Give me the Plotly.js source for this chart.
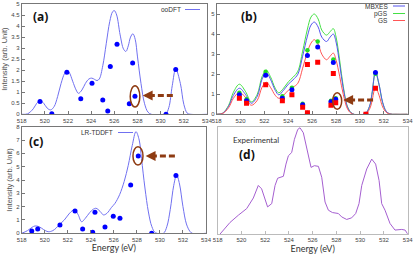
<!DOCTYPE html>
<html><head><meta charset="utf-8">
<script src="https://cdn.plot.ly/plotly-3.0.1.min.js"></script>
<style>html,body{margin:0;padding:0;background:#fff}#chart{width:415px;height:256px}</style>
</head><body><div id="chart"></div>
<script>
// ---------- data ----------
// (a) ooDFT
const curveA_E = [518.0,518.5,519.0,519.3,519.6,519.9,520.2,520.5,520.8,521.1,521.4,521.7,521.9,522.1,522.4,522.7,522.9,523.2,523.5,523.8,524.05,524.3,524.5,524.7,525.0,525.3,525.6,525.85,526.0,526.2,526.5,526.8,527.0,527.2,527.4,527.6,527.8,528.0,528.3,528.6,528.9,529.2,530.4,530.7,531.0,531.3,531.7,532.0,532.3,532.6,534.0];
const curveA_I = [0,0.02,0.25,0.5,0.62,0.5,0.28,0.2,0.35,0.8,1.4,1.85,1.97,1.9,1.5,1.1,0.95,1.1,1.4,1.6,1.64,1.58,1.53,1.6,2.2,3.2,4.2,4.65,4.7,4.5,3.6,2.95,2.85,3.1,3.5,3.65,3.4,2.6,1.4,0.5,0.1,0,0,0.3,1.3,2.06,1.4,0.45,0.05,0,0];
const dotsA_E = [519.58,520.6,521.9,523.1,524.07,525.0,525.43,525.65,526.23,527.29,527.58,527.78,530.46,531.3];
const dotsA_I = [0.58,0.02,1.91,0.70,1.41,0.65,0.15,2.17,3.17,0.48,2.32,0.82,0.0,2.03];

// (b) MBXES / pGS / GS
const curveB_E = [518.0,518.5,519.0,519.4,519.9,520.4,520.9,521.4,521.8,522.15,522.5,522.9,523.2,523.6,524.0,524.4,524.8,525.2,525.6,525.9,526.18,526.5,526.8,527.2,527.5,527.77,528.0,528.3,528.6,529.0,529.4,530.4,530.8,531.0,531.3,531.6,531.9,532.2,532.5,533.0,534.0];
const curveB_MBXES = [0,0.05,0.4,0.95,1.3,1.0,0.55,0.9,1.75,2.08,1.75,1.2,0.97,1.2,1.5,1.72,2.0,2.9,3.9,4.45,4.6,4.35,3.85,3.63,3.85,4.0,3.6,2.5,1.3,0.3,0.02,0,0.4,1.0,2.13,1.5,0.6,0.15,0.02,0,0];
const curveB_pGS = [0,0.06,0.45,1.1,1.5,1.15,0.62,1.0,1.88,2.2,1.88,1.3,1.07,1.3,1.62,1.85,2.15,3.15,4.25,4.85,5.0,4.75,4.2,3.95,4.12,4.27,3.85,2.7,1.4,0.32,0.02,0,0.38,0.98,2.08,1.47,0.58,0.14,0.02,0,0];
const curveB_GS = [0,0.04,0.33,0.8,1.1,0.85,0.45,0.7,1.35,1.6,1.35,0.95,0.8,0.95,1.2,1.35,1.55,2.3,3.1,3.55,3.72,3.5,3.0,2.72,2.9,3.05,2.7,1.9,1.0,0.22,0.01,0,0.25,0.63,1.35,0.95,0.37,0.1,0.01,0,0];
const dotsB_E = [519.9,520.5,522.1,523.5,524.3,525.2,525.6,525.6,526.46,527.57,527.77,527.97,530.5,531.3];
const dotsB_MBXES = [0.97,0.68,1.95,0.80,1.22,0.47,0.05,2.93,3.35,0.62,2.58,0.75,0.0,2.08];
const dotsB_pGS = [1.08,0.75,2.12,0.90,1.33,0.53,0.06,3.20,3.63,0.68,2.73,0.80,0.0,2.02];
const dotsB_GS = [0.80,0.55,1.47,0.67,0.97,0.35,0.08,2.48,2.60,0.45,2.03,0.58,0.0,1.30];

// (c) LR-TDDFT
const curveC_E = [518.0,518.5,518.9,519.15,519.5,519.9,520.3,520.7,521.0,521.3,521.7,522.1,522.45,522.63,522.9,523.2,523.5,523.9,524.2,524.45,524.8,525.1,525.4,525.8,526.1,526.5,526.9,527.25,527.6,527.92,528.2,528.4,528.7,529.0,529.3,529.6,530.3,530.6,530.9,531.2,531.45,531.7,532.0,532.3,532.6,532.8,534.0];
const curveC_I = [0,0.2,0.45,0.55,0.5,0.28,0.12,0.2,0.4,0.68,1.0,1.45,1.73,1.75,1.4,0.87,1.1,1.55,1.8,1.88,1.65,1.38,1.5,1.95,2.25,2.9,3.9,5.1,6.6,7.63,7.0,5.6,3.4,1.6,0.5,0.05,0,0.5,1.8,3.6,4.38,3.7,2.0,0.7,0.15,0,0];
const dotsC_E = [518.87,519.39,521.32,522.63,523.29,524.16,524.36,525.23,525.95,526.53,527.46,528.12,529.28,531.39];
const dotsC_I = [0.17,0.33,0.63,1.68,0.33,0.08,1.58,0.48,1.28,1.13,3.63,5.8,0.0,4.33];

// (d) Experimental
const expE = [518.2,519.04,519.74,520.44,521.0,521.42,521.7,522.2,522.55,522.83,523.05,523.53,523.75,523.95,524.23,524.46,524.74,524.93,525.21,525.5,525.86,526.14,526.48,526.76,527.04,527.32,527.66,528.16,528.44,528.86,529.28,529.62,529.9,530.13,530.55,530.97,531.3,531.59,531.81,532.09,532.51,532.93,533.5,533.78,534.0];
const expI = [0,0.109,0.177,0.239,0.339,0.457,0.425,0.255,0.286,0.457,0.525,0.543,0.658,0.736,0.767,0.891,0.984,1.0,0.953,0.798,0.627,0.643,0.637,0.534,0.301,0.224,0.202,0.193,0.161,0.137,0.152,0.193,0.286,0.457,0.612,0.705,0.658,0.503,0.286,0.224,0.099,0.037,0.043,0.037,0];

const xTicks = [518,520,522,524,526,528,530,532,534];

// ---------- styling ----------
const W = 415, H = 256;
const px = v => v / W, py = v => 1 - v / H;
const tickFont = {family: 'Liberation Sans, Arial, sans-serif', size: 6, color: '#444'};
const brown = '#8e3b12';
const blueLine = '#7070f0';

function xa(domain, anchor, title, boxColor) {
  return {domain, anchor, range: [518, 534], tickvals: xTicks, ticks: 'inside', ticklen: 3,
    tickcolor: boxColor, tickfont: tickFont, showline: true, mirror: true, linecolor: boxColor,
    linewidth: 1, showgrid: false, zeroline: false, fixedrange: true,
    title: title ? {text: title, font: {family: 'Lato, Open Sans, sans-serif', size: 9, color: '#333'}, standoff: 2} : undefined};
}
function ya(domain, anchor, range, dtick, title, show, boxColor) {
  return {domain, anchor, range, dtick, ticks: show ? 'inside' : '', ticklen: 3, tickcolor: boxColor,
    showticklabels: show, tickfont: tickFont, showline: true, mirror: true, linecolor: boxColor,
    linewidth: 1, showgrid: false, zeroline: false, fixedrange: true,
    title: title ? {text: title, font: {family: 'Liberation Sans, Arial, sans-serif', size: 7.5, color: '#555'}, standoff: 2} : undefined};
}

const traces = [
  {x: curveA_E, y: curveA_I, xaxis: 'x', yaxis: 'y', mode: 'lines', line: {color: blueLine, width: 1, shape: 'spline'}, name: 'ooDFT'},
  {x: dotsA_E, y: dotsA_I, xaxis: 'x', yaxis: 'y', mode: 'markers', marker: {color: '#0000ff', size: 5}, name: 'ooDFT sticks'},

  {x: curveB_E, y: curveB_pGS, xaxis: 'x2', yaxis: 'y2', mode: 'lines', line: {color: '#44e044', width: 1, shape: 'spline'}, name: 'pGS'},
  {x: curveB_E, y: curveB_MBXES, xaxis: 'x2', yaxis: 'y2', mode: 'lines', line: {color: '#5555ee', width: 1, shape: 'spline'}, name: 'MBXES'},
  {x: curveB_E, y: curveB_GS, xaxis: 'x2', yaxis: 'y2', mode: 'lines', line: {color: '#ff5555', width: 1, shape: 'spline'}, name: 'GS'},
  {x: dotsB_E, y: dotsB_pGS, xaxis: 'x2', yaxis: 'y2', mode: 'markers', marker: {color: '#22dd22', size: 4.5}, name: 'pGS sticks'},
  {x: dotsB_E, y: dotsB_MBXES, xaxis: 'x2', yaxis: 'y2', mode: 'markers', marker: {color: '#0000ff', size: 5}, name: 'MBXES sticks'},
  {x: dotsB_E, y: dotsB_GS, xaxis: 'x2', yaxis: 'y2', mode: 'markers', marker: {color: '#ff0000', size: 5, symbol: 'square'}, name: 'GS sticks'},

  {x: curveC_E, y: curveC_I, xaxis: 'x3', yaxis: 'y3', mode: 'lines', line: {color: blueLine, width: 1, shape: 'spline'}, name: 'LR-TDDFT'},
  {x: dotsC_E, y: dotsC_I, xaxis: 'x3', yaxis: 'y3', mode: 'markers', marker: {color: '#0000ff', size: 5}, name: 'LR-TDDFT sticks'},

  {x: expE, y: expI, xaxis: 'x4', yaxis: 'y4', mode: 'lines', line: {color: '#a55fd0', width: 1}, name: 'Experimental'}
];

function ellipse(xr, yr, x0, x1, y0, y1) {
  return {type: 'circle', xref: xr, yref: yr, x0, x1, y0, y1, line: {color: brown, width: 1.5}};
}
function dashArrow(xr, yr, xTail, xTip, y) {
  return {type: 'line', xref: xr, yref: yr, x0: xTail, x1: xTip + 0.45, y0: y, y1: y, line: {color: brown, width: 3, dash: '6px,3px'}};
}
function arrowHead(xr, yr, xTip, y) {
  return {xref: xr, yref: yr, x: xTip, y, ax: 7, ay: 0, axref: 'pixel', ayref: 'pixel', text: '', showarrow: true,
    arrowhead: 2, arrowsize: 0.9, arrowwidth: 2.2, arrowcolor: brown};
}
function legendLine(x0, x1, y, color) {
  return {type: 'line', xref: 'paper', yref: 'paper', x0: px(x0), x1: px(x1), y0: py(y), y1: py(y), line: {color, width: 1}};
}
function txt(x, y, text, size, opts) {
  return Object.assign({xref: 'paper', yref: 'paper', x: px(x), y: py(y), text, showarrow: false,
    font: {family: 'Liberation Sans, Arial, sans-serif', size, color: '#333'}, xanchor: 'left', yanchor: 'middle'}, opts || {});
}
const boldFont = s => ({family: 'Open Sans, Liberation Sans, sans-serif', size: s, color: '#111', weight: 'bold'});

const layout = {
  width: W, height: H, margin: {l: 0, r: 0, t: 0, b: 0}, paper_bgcolor: '#fff', plot_bgcolor: '#fff', showlegend: false,
  xaxis: xa([px(21.7), px(207)], 'y', null, '#777'),
  yaxis: ya([py(114.3), py(4)], 'x', [0, 5], 0.5, 'Intensity (arb. Unit)', true, '#777'),
  xaxis2: xa([px(216.7), px(407.7)], 'y2', null, '#777'),
  yaxis2: ya([py(114.3), py(4)], 'x2', [0, 5.5], 1, null, true, '#777'),
  xaxis3: xa([px(21.7), px(206)], 'y3', 'Energy (eV)', '#777'),
  yaxis3: ya([py(233.3), py(126.7)], 'x3', [0, 8], 1, 'Intensity (arb. Unit)', true, '#777'),
  xaxis4: xa([px(217.7), px(407.7)], 'y4', 'Energy (eV)', '#bbb'),
  yaxis4: ya([py(234), py(126.7)], 'x4', [0, 1.01], 0.2, null, false, '#bbb'),
  shapes: [
    ellipse('x', 'y', 527.37, 528.2, 0.33, 1.29),
    dashArrow('x', 'y', 531.05, 528.45, 0.85),
    ellipse('x2', 'y2', 527.72, 528.47, 0.25, 1.08),
    dashArrow('x2', 'y2', 531.1, 528.6, 0.71),
    ellipse('x3', 'y3', 527.66, 528.53, 5.12, 6.5),
    dashArrow('x3', 'y3', 531.3, 528.76, 5.8),
    legendLine(185, 200, 9.5, blueLine),
    legendLine(393, 405, 6, '#5555ee'),
    legendLine(393, 405, 13.5, '#44e044'),
    legendLine(393, 405, 20.5, '#ff5555'),
    legendLine(118, 133, 132.5, blueLine)
  ],
  annotations: [
    arrowHead('x', 'y', 528.45, 0.85),
    arrowHead('x2', 'y2', 528.6, 0.71),
    arrowHead('x3', 'y3', 528.76, 5.8),
    txt(183, 9.5, 'ooDFT', 6.5, {xanchor: 'right'}),
    txt(390, 6, 'MBXES', 6.5, {xanchor: 'right'}),
    txt(390, 13.5, 'pGS', 6.5, {xanchor: 'right'}),
    txt(390, 20.5, 'GS', 6.5, {xanchor: 'right'}),
    txt(115, 132.5, 'LR-TDDFT', 6.5, {xanchor: 'right'}),
    txt(31, 16, '(a)', 12, {font: boldFont(12)}),
    txt(239, 16, '(b)', 12, {font: boldFont(12)}),
    txt(27, 141, '(c)', 12, {font: boldFont(12)}),
    txt(237, 154, '(d)', 12, {font: boldFont(12)}),
    txt(231, 139.5, 'Experimental', 8, {font: {family: 'Lato, Open Sans, sans-serif', size: 8, color: '#333'}})
  ]
};

Plotly.newPlot('chart', traces, layout, {staticPlot: true, displayModeBar: false});
</script></body></html>
